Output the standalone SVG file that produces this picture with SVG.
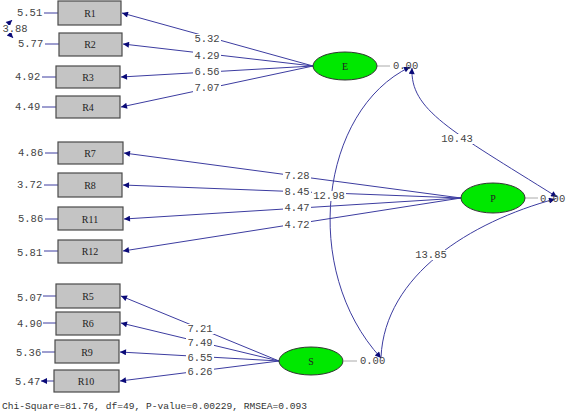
<svg xmlns="http://www.w3.org/2000/svg" width="567" height="413" viewBox="0 0 567 413">
<defs>
<marker id="ah" viewBox="0 0 10 10" refX="10" refY="5" markerWidth="9" markerHeight="6" markerUnits="userSpaceOnUse" orient="auto-start-reverse">
<path d="M0,0 L10,5 L0,10 z" fill="#0a0a78"/>
</marker>
<style>
.box{fill:#c4c4c4;stroke:#4a4a4a;stroke-width:1.2}
.bl{font-family:"Liberation Serif",serif;font-size:10px;fill:#222;text-anchor:middle;dominant-baseline:central}
.lv{fill:#00e800;stroke:#333;stroke-width:1}
.ll{font-family:"Liberation Serif",serif;font-size:10px;fill:#222;text-anchor:middle;dominant-baseline:central}
.num{font-family:"Liberation Mono",monospace;font-size:10.5px;fill:#444;dominant-baseline:central}
.lab{font-family:"Liberation Mono",monospace;font-size:10.5px;fill:#444;text-anchor:middle;dominant-baseline:central}
.bg{fill:#fff}
.c{fill:none;stroke:#3c3ca0;stroke-width:1}
.g{stroke:#aaa;stroke-width:1}
.foot{font-family:"Liberation Mono",monospace;font-size:9.6px;fill:#333}
</style>
</defs>
<rect width="567" height="413" fill="#fff"/>

<g id="connectors">
<path class="c" d="M58 13H44M59 44H45M56 77H42M56 107H42M58 153H45M58 185H44M58 219H45M58 251H44M56 296H43M56 323H43M55 352H42M54 381H41" marker-end="url(#ah)"/>
<path class="c" d="M12 20 Q4 28 13 38" marker-start="url(#ah)" marker-end="url(#ah)"/>
<path class="c" d="M313 66L122 13" marker-end="url(#ah)"/>
<path class="c" d="M313 66L123 44" marker-end="url(#ah)"/>
<path class="c" d="M313 66L121 77" marker-end="url(#ah)"/>
<path class="c" d="M313 66L121 107" marker-end="url(#ah)"/>
<path class="c" d="M461 198L124 153" marker-end="url(#ah)"/>
<path class="c" d="M461 198L123 185" marker-end="url(#ah)"/>
<path class="c" d="M461 198L124 219" marker-end="url(#ah)"/>
<path class="c" d="M461 198L123 251" marker-end="url(#ah)"/>
<path class="c" d="M279 361L121 296" marker-end="url(#ah)"/>
<path class="c" d="M279 361L121 323" marker-end="url(#ah)"/>
<path class="c" d="M279 361L120 352" marker-end="url(#ah)"/>
<path class="c" d="M279 361L120 381" marker-end="url(#ah)"/>
<path class="g" d="M377 66H390M525 198H538M344 361H357"/>
<path class="c" d="M410 67 C320 110 300 270 381 358" marker-start="url(#ah)" marker-end="url(#ah)"/>
<path class="c" d="M412 68 C410 110 450 130 557 197" marker-start="url(#ah)" marker-end="url(#ah)"/>
<path class="c" d="M555 199 C470 222 385 275 381 357" marker-start="url(#ah)"/>
</g>

<g id="labels">
<rect class="bg" x="193" y="34" width="28" height="10"/><text class="lab" x="207" y="39">5.32</text>
<rect class="bg" x="193" y="51" width="28" height="10"/><text class="lab" x="207" y="56">4.29</text>
<rect class="bg" x="193" y="67" width="28" height="10"/><text class="lab" x="207" y="72">6.56</text>
<rect class="bg" x="193" y="83" width="28" height="10"/><text class="lab" x="207" y="88">7.07</text>
<rect class="bg" x="283" y="171" width="28" height="10"/><text class="lab" x="297" y="176">7.28</text>
<rect class="bg" x="283" y="187" width="28" height="10"/><text class="lab" x="297" y="192">8.45</text>
<rect class="bg" x="283" y="203" width="28" height="10"/><text class="lab" x="297" y="208">4.47</text>
<rect class="bg" x="283" y="220" width="28" height="10"/><text class="lab" x="297" y="225">4.72</text>
<rect class="bg" x="312" y="191" width="34" height="10"/><text class="lab" x="329" y="196">12.98</text>
<rect class="bg" x="440" y="134" width="34" height="10"/><text class="lab" x="457" y="139">10.43</text>
<rect class="bg" x="414" y="250" width="34" height="10"/><text class="lab" x="431" y="255">13.85</text>
<rect class="bg" x="186" y="324" width="28" height="10"/><text class="lab" x="200" y="329">7.21</text>
<rect class="bg" x="186" y="338" width="28" height="10"/><text class="lab" x="200" y="343">7.49</text>
<rect class="bg" x="186" y="353" width="28" height="10"/><text class="lab" x="200" y="358">6.55</text>
<rect class="bg" x="186" y="367" width="28" height="10"/><text class="lab" x="200" y="372">6.26</text>
<rect class="bg" x="2" y="25" width="26" height="8"/><text class="lab" x="15" y="29">3.88</text>
</g>

<g id="errors">
<text class="num" x="17" y="13">5.51</text>
<text class="num" x="18" y="44">5.77</text>
<text class="num" x="15" y="77">4.92</text>
<text class="num" x="15" y="107">4.49</text>
<text class="num" x="18" y="153">4.86</text>
<text class="num" x="17" y="185">3.72</text>
<text class="num" x="18" y="219">5.86</text>
<text class="num" x="17" y="253">5.81</text>
<text class="num" x="17" y="298">5.07</text>
<text class="num" x="17" y="324">4.90</text>
<text class="num" x="16" y="353">5.36</text>
<text class="num" x="15" y="382">5.47</text>
<text class="num" x="393" y="66">0.00</text>
<text class="num" x="540" y="199">0.00</text>
<text class="num" x="360" y="361">0.00</text>
</g>

<g id="R1"><rect class="box" x="58" y="1" width="63" height="24"/><text class="bl" x="90" y="13">R1</text></g>
<g id="R2"><rect class="box" x="59" y="33" width="63" height="23"/><text class="bl" x="90" y="44">R2</text></g>
<g id="R3"><rect class="box" x="56" y="66" width="64" height="22"/><text class="bl" x="88" y="77">R3</text></g>
<g id="R4"><rect class="box" x="56" y="96" width="64" height="22"/><text class="bl" x="88" y="107">R4</text></g>
<g id="R7"><rect class="box" x="58" y="142" width="65" height="22"/><text class="bl" x="90" y="153">R7</text></g>
<g id="R8"><rect class="box" x="58" y="173" width="64" height="24"/><text class="bl" x="90" y="185">R8</text></g>
<g id="R11"><rect class="box" x="58" y="207" width="65" height="23"/><text class="bl" x="90" y="219">R11</text></g>
<g id="R12"><rect class="box" x="58" y="240" width="64" height="23"/><text class="bl" x="90" y="251">R12</text></g>
<g id="R5"><rect class="box" x="56" y="284" width="64" height="24"/><text class="bl" x="88" y="296">R5</text></g>
<g id="R6"><rect class="box" x="56" y="312" width="64" height="23"/><text class="bl" x="88" y="323">R6</text></g>
<g id="R9"><rect class="box" x="55" y="340" width="64" height="23"/><text class="bl" x="87" y="352">R9</text></g>
<g id="R10"><rect class="box" x="54" y="370" width="65" height="22"/><text class="bl" x="86" y="381">R10</text></g>

<g id="E"><ellipse class="lv" cx="345" cy="66" rx="32" ry="14"/><text class="ll" x="345" y="66">E</text></g>
<g id="P"><ellipse class="lv" cx="493" cy="198" rx="32" ry="15"/><text class="ll" x="493" y="198">P</text></g>
<g id="S"><ellipse class="lv" cx="311" cy="361" rx="32" ry="14"/><text class="ll" x="311" y="361">S</text></g>

<text class="foot" x="2" y="409">Chi-Square=81.76, df=49, P-value=0.00229, RMSEA=0.093</text>
</svg>
